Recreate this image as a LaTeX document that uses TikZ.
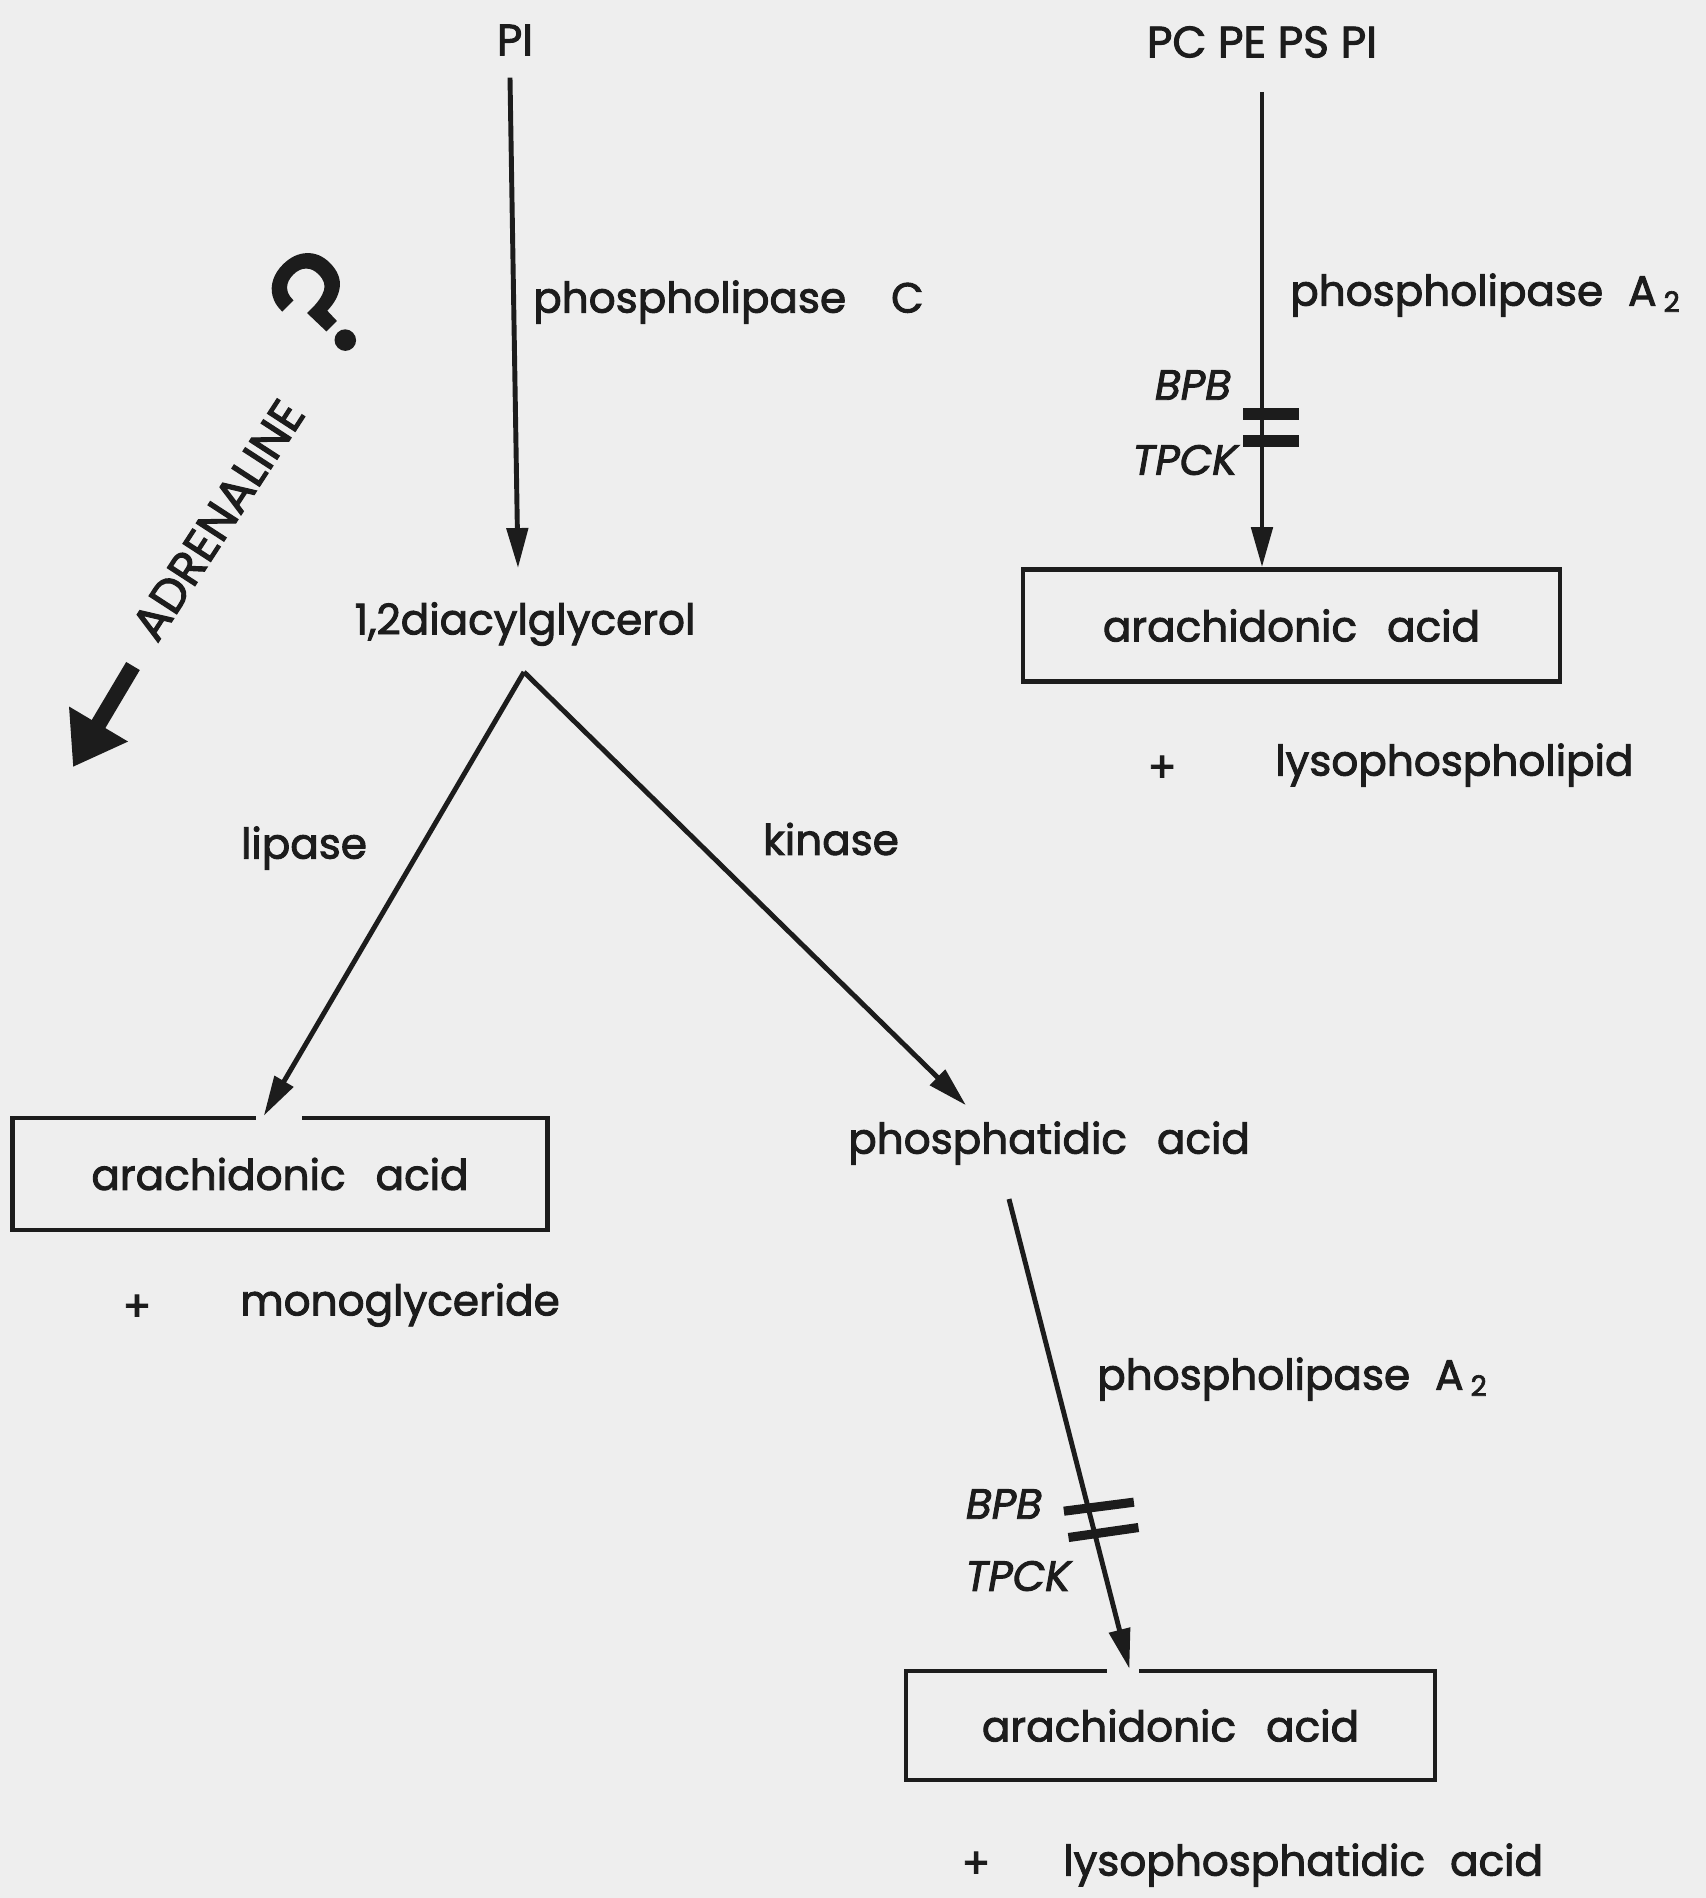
\documentclass[tikz,border=0pt]{standalone}
\usepackage{fontspec}
\setmainfont{Poppins}[FakeBold=2.2]
\usepackage{xcolor}
\usepackage{tikz}
\usetikzlibrary{arrows.meta,positioning,calc}
\definecolor{paper}{RGB}{238,238,238}
\definecolor{ink}{RGB}{28,28,28}

\begin{document}
\begin{tikzpicture}[
    every node/.style={text=ink, inner sep=1pt, font=\fontsize{12}{14}\selectfont},
    chem/.style={rectangle, draw=ink, line width=1.3pt, minimum width=#1, minimum height=1.12cm},
    arr/.style={draw=ink, line width=1.4pt, -{Triangle[length=4mm,width=2.1mm]}},
    bar/.style={draw=ink, line width=#1},
    inhib/.style={font=\fontsize{12}{14}\selectfont\itshape},
    big/.style={font=\fontsize{12.5}{14}\selectfont}]

    % Page
    \fill[paper] (0,0) rectangle (17.06,-18.98);
    \useasboundingbox (0,0) rectangle (17.06,-18.98);

    % Substrates
    \node[big] (pi) at (5.15,-0.40) {PI};
    \node[big] (plist) at (12.62,-0.42) {PC PE PS PI};

    % Enzymes
    \node[anchor=west] (plc) at (5.29,-3.02) {phospholipase\hspace{4.5mm}C};
    \node[anchor=west] (plaR) at (12.86,-2.95) {phospholipase\hspace{2.5mm}A\,\textsubscript{2}};
    \node[anchor=west] (plaB) at (10.93,-13.79) {phospholipase\hspace{2.5mm}A\,\textsubscript{2}};
    \node (lipase) at (3.04,-8.48) {lipase};
    \node (kinase) at (8.31,-8.39) {kinase};

    % Inhibitors
    \node[inhib] (bpbR) at (11.93,-3.85) {BPB};
    \node[inhib] (tpckR) at (11.85,-4.60) {TPCK};
    \node[inhib] (bpbB) at (10.04,-15.04) {BPB};
    \node[inhib] (tpckB) at (10.18,-15.76) {TPCK};

    % Products
    \node (dag) at (5.25,-6.24) {1,2diacylglycerol};
    \node[anchor=west] (pa) at (8.44,-11.43) {phosphatidic\hspace{3mm}acid};
    \node[chem=5.35cm] (aaL) at (2.80,-11.74) {arachidonic\hspace{3mm}acid};
    \node[chem=5.37cm] (aaR) at (12.915,-6.255) {arachidonic\hspace{3mm}acid};
    \node[chem=5.29cm, minimum height=1.09cm] (aaB) at (11.705,-17.255) {arachidonic\hspace{3mm}acid};

    \node (plusL) at (1.37,-13.08) {+};
    \node[anchor=west] (mono) at (2.36,-13.05) {monoglyceride};
    \node (plusR) at (11.62,-7.69) {+};
    \node[anchor=west] (lysopl) at (12.71,-7.65) {lysophospholipid};
    \node (plusB) at (9.76,-18.65) {+};
    \node[anchor=west] (lysopa) at (10.59,-18.65) {lysophosphatidic\hspace{2.5mm}acid};

    % Adrenaline
    \node[rotate=57, font=\fontsize{13.5}{15}\selectfont] (adr) at (2.18,-5.20) {ADRENALINE};
    \node[rotate=45, font=\fontsize{42}{42}\selectfont] (qm) at (3.22,-3.02) {?};
    \coordinate (adrA) at (1.33,-6.66);
    \coordinate (adrB) at (0.73,-7.67);

    \coordinate (fork) at (5.24,-6.72);
    \coordinate (paout) at (10.09,-11.99);
    \coordinate (tipB) at ($(aaB.north west)!0.423!(aaB.north east)$);

    % Gaps in the box tops
    \fill[paper] (2.56,-11.05) rectangle (3.02,-11.30);
    \fill[paper] (11.07,-16.60) rectangle (11.39,-16.85);

    % Connections
    \draw[arr] ([xshift=-0.5mm,yshift=-1.8mm]pi.south) -- ([xshift=-0.7mm,yshift=3mm]dag.north);
    \draw[arr] ([yshift=-3mm]plist.south) -- (plist.south |- aaR.north);
    \draw[arr] (fork) -- ($(aaL.north west)!0.47!(aaL.north east)$);
    \draw[arr] (fork) -- ([shift={(1.22,0.12)}]pa.north west);
    \draw[arr] (paout) -- (tipB);
    \draw[line width=4.5pt, draw=ink, -{Triangle[length=5mm,width=6.5mm]}] (adrA) -- (adrB);

    \draw[bar=3.4pt] (12.43,-4.14) -- (12.99,-4.14);
    \draw[bar=3.4pt] (12.43,-4.41) -- (12.99,-4.41);
    \draw[bar=2.6pt] ($(paout)!0.655!(tipB)$) ++(-0.24,-0.045) -- ++(0.70,0.09);
    \draw[bar=2.6pt] ($(paout)!0.71!(tipB)$) ++(-0.26,-0.05) -- ++(0.70,0.10);
\end{tikzpicture}
\end{document}
